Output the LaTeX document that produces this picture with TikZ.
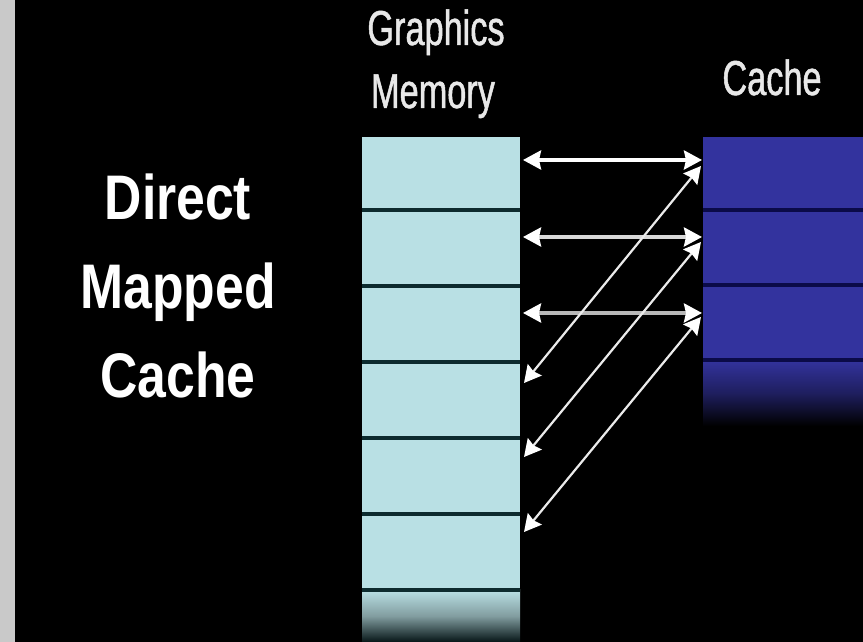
\documentclass[tikz,border=0pt]{standalone}
\usepackage{fontspec}
\setmainfont{Liberation Sans}
\newfontfamily\narrowfont[FakeStretch=0.70,FakeBold=1]{Liberation Sans}
\newfontfamily\titlefont[FakeStretch=0.82]{Liberation Sans}
\usetikzlibrary{arrows.meta,calc}
\definecolor{memcol}{HTML}{B9E0E4}
\definecolor{memline}{HTML}{0D2B2E}
\definecolor{cachecol}{HTML}{33339E}
\definecolor{cacheline}{HTML}{0B0B48}
\definecolor{stripcol}{HTML}{C9C9C9}
\definecolor{labelcol}{HTML}{E8E8E8}
\begin{document}
\begin{tikzpicture}[x=1pt,y=1pt,
  memrow/.style={rectangle, fill=memcol, draw=none,
    minimum width=158pt, inner sep=0pt, outer sep=0pt},
  cacherow/.style={rectangle, fill=cachecol, draw=none,
    minimum width=160pt, inner sep=0pt, outer sep=0pt},
  memdiv/.style={draw=memline, line width=3.5pt},
  cachediv/.style={draw=cacheline, line width=3.5pt},
  harrow/.style={arrows={Stealth[length=18pt 0 0,width=19pt 0 0,inset=2pt,color=white]-Stealth[length=18pt 0 0,width=19pt 0 0,inset=2pt,color=white]}, line width=3.5pt},
  darrow/.style={arrows={Stealth[length=17pt 0 0,width=18pt 0 0,inset=2pt,color=white]-Stealth[length=17pt 0 0,width=18pt 0 0,inset=2pt,color=white]}, line width=2.2pt, color=white!92!black},
  lbl/.style={text=labelcol, inner sep=0pt, font=\narrowfont\fontsize{49}{63}\selectfont},
  title/.style={text=white, inner sep=0pt, align=center,
    font=\titlefont\bfseries\fontsize{63}{89}\selectfont}
]
\useasboundingbox (0,0) rectangle (863,642);
\fill[black] (0,0) rectangle (863,642);
\fill[stripcol] (0,0) rectangle (15,642);

% graphics memory column
\node[memrow, minimum height=73pt] (m1) at (441,468.5) {};
\node[memrow, minimum height=76pt] (m2) at (441,394) {};
\node[memrow, minimum height=76pt] (m3) at (441,318) {};
\node[memrow, minimum height=76pt] (m4) at (441,242) {};
\node[memrow, minimum height=76pt] (m5) at (441,166) {};
\node[memrow, minimum height=76pt] (m6) at (441,90) {};
\node[rectangle, minimum width=158pt, minimum height=52pt, inner sep=0pt,
  top color=memcol, bottom color=memline!50!black, middle color=memcol!70!black] (m7) at (441,26) {};
\foreach \r in {m1,m2,m3,m4,m5,m6}
  \draw[memdiv] (\r.south west) -- (\r.south east);

% cache column
\node[cacherow, minimum height=73pt] (c1) at (783,468.5) {};
\node[cacherow, minimum height=75pt] (c2) at (783,394.5) {};
\node[cacherow, minimum height=75pt] (c3) at (783,319.5) {};
\node[rectangle, minimum width=160pt, minimum height=66pt, inner sep=0pt,
  top color=cachecol, bottom color=black, middle color=cachecol!60!black] (c4) at (783,249) {};
\foreach \r in {c1,c2,c3}
  \draw[cachediv] (\r.south west) -- (\r.south east);

% labels
\node[lbl, anchor=base] (gm1) at (436,597) {Graphics};
\node[lbl, anchor=base] (gm2) at (433,534) {Memory};
\node[lbl, anchor=base] (cl) at (772,547) {Cache};
\node[title, anchor=north] (tt) at (178,468) {Direct\\Mapped\\Cache};

% horizontal arrows
\draw[harrow, white] ([xshift=3pt,yshift=13.5pt]m1.east) -- ([xshift=-1pt,yshift=13.5pt]c1.west);
\draw[harrow, white!85!black] ([xshift=3pt,yshift=11pt]m2.east) -- ([xshift=-1pt,yshift=10.5pt]c2.west);
\draw[harrow, white!72!black] ([xshift=3pt,yshift=11pt]m3.east) -- ([xshift=-1pt,yshift=9.5pt]c3.west);

% diagonal arrows
\draw[darrow] ([xshift=-2pt,yshift=7.5pt]c1.west) -- ([xshift=4pt,yshift=17pt]m4.east);
\draw[darrow] ([xshift=-2pt,yshift=5.5pt]c2.west) -- ([xshift=4pt,yshift=19pt]m5.east);
\draw[darrow] ([xshift=-2pt,yshift=5.5pt]c3.west) -- ([xshift=4pt,yshift=20pt]m6.east);
\end{tikzpicture}
\end{document}
